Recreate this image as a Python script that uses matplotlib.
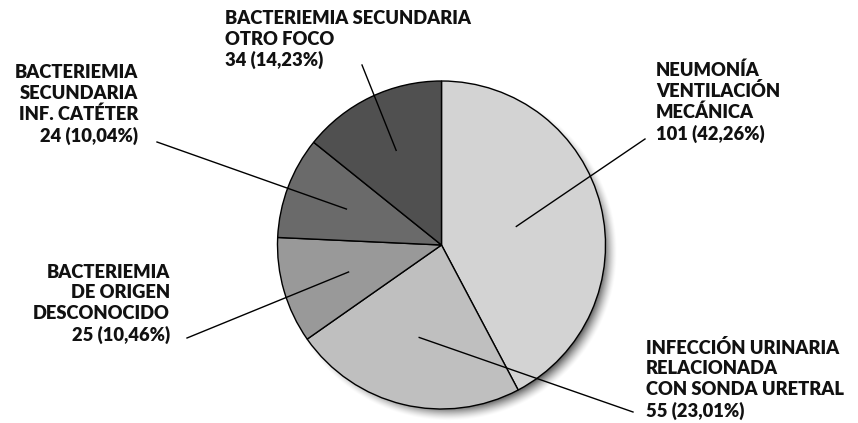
import numpy as np
import matplotlib
matplotlib.use("Agg")
import matplotlib.pyplot as plt

# data (clockwise from 12 o'clock)
labels = ["NEUMONÍA\nVENTILACIÓN\nMECÁNICA",
          "INFECCIÓN URINARIA\nRELACIONADA\nCON SONDA URETRAL",
          "BACTERIEMIA\nDE ORIGEN\nDESCONOCIDO",
          "BACTERIEMIA\nSECUNDARIA\nINF. CATÉTER",
          "BACTERIEMIA SECUNDARIA\nOTRO FOCO"]
counts = [101, 55, 25, 24, 34]
percents = ["42,26", "23,01", "10,46", "10,04", "14,23"]
colors = ["#d3d3d3", "#bfbfbf", "#999999", "#6a6a6a", "#505050"]

W, H = 858, 423
cx, cy, R = 441.5, H - 245, 164

# label layout (pixel coords, y from bottom)
text_pos = [(656, H - 61), (646, H - 339), (170, H - 264), (138, H - 64), (225, H - 10)]
text_ha = ["left", "left", "right", "right", "left"]
line_out = [(645, H - 139), (633, H - 412), (187, H - 338), (157, H - 142), (362, H - 65)]
line_frac = [0.47, 0.58, 0.59, 0.62, 0.64]

fig = plt.figure(figsize=(W / 100, H / 100), dpi=100)
ax = fig.add_axes([0, 0, 1, 1])

# soft drop shadow
yy, xx = np.mgrid[0:H, 0:W]
d = np.hypot(xx + 0.5 - (cx + 7), (H - yy - 0.5) - (cy - 7))
a = np.clip((R + 5 - d) / 16, 0, 1) ** 1.5 * 0.75
shadow = np.zeros((H, W, 4))
shadow[..., 3] = a
ax.imshow(shadow, extent=(0, W, 0, H), origin="upper", zorder=1)

wedges, _ = ax.pie(counts, colors=colors, startangle=90, counterclock=False,
                   center=(cx, cy), radius=R, frame=True,
                   wedgeprops=dict(edgecolor="black", linewidth=1.0))
for w in wedges:
    w.set_zorder(2)
ax.set_xlim(0, W)
ax.set_ylim(0, H)
ax.set_aspect("equal")
ax.axis("off")

font = dict(family=["Lato", "DejaVu Sans"], fontweight="heavy", fontsize=13.2)
for i, w in enumerate(wedges):
    ang = np.deg2rad((w.theta1 + w.theta2) / 2)
    px = cx + line_frac[i] * R * np.cos(ang)
    py = cy + line_frac[i] * R * np.sin(ang)
    ox, oy = line_out[i]
    ax.plot([px, ox], [py, oy], color="black", lw=1.0, zorder=3)
    txt = f"{labels[i]}\n{counts[i]} ({percents[i]}%)"
    ax.text(text_pos[i][0], text_pos[i][1], txt, ha=text_ha[i], va="top",
            ma=text_ha[i], linespacing=1.25, color="#111111", zorder=4, **font)

fig.savefig("out.png", dpi=100)
